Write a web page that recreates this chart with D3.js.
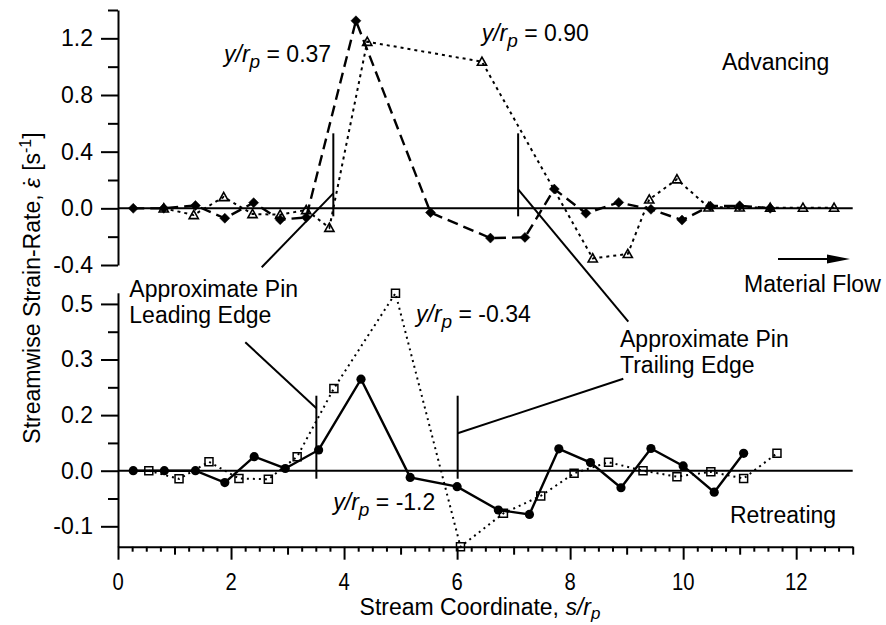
<!DOCTYPE html>
<html>
<head>
<meta charset="utf-8">
<script src="https://cdn.jsdelivr.net/npm/d3@7"></script>
<style>
  body { margin: 0; background: #fff; }
  svg text { font-family: "Liberation Sans", Arial, Helvetica, sans-serif; fill: #000; }
</style>
</head>
<body>
<svg id="chart" width="886" height="625"></svg>
<script>
// ---- data: streamwise strain-rate vs. stream coordinate s/r_p ----
// Advancing side, y/r_p = 0.37 (filled diamonds, dashed)
const sAdv037    = [0.27, 0.81, 1.37, 1.89, 2.40, 2.87, 3.33, 4.21, 5.53, 6.59, 7.20, 7.72, 8.28, 8.86, 9.43, 9.98, 10.48, 11.00, 11.54];
const rateAdv037 = [0.00, 0.00, 0.02, -0.07, 0.04, -0.08, -0.064, 1.324, -0.03, -0.21, -0.205, 0.136, -0.035, 0.042, -0.007, -0.083, 0.016, 0.018, 0.00];

// Advancing side, y/r_p = 0.90 (open triangles, dotted)
const sAdv090    = [0.81, 1.34, 1.87, 2.38, 2.87, 3.33, 3.74, 4.41, 6.44, 8.40, 9.02, 9.40, 9.89, 10.45, 11.00, 11.54, 12.12, 12.67];
const rateAdv090 = [0.00, -0.047, 0.08, -0.04, -0.045, -0.012, -0.137, 1.176, 1.035, -0.353, -0.322, 0.063, 0.205, 0.007, 0.007, 0.005, 0.005, 0.005];

// Retreating side, y/r_p = -1.2 (filled circles, solid)
const sRetM12    = [0.27, 0.82, 1.37, 1.89, 2.41, 2.96, 3.55, 4.30, 5.17, 6.00, 6.73, 7.28, 7.80, 8.36, 8.90, 9.43, 10.00, 10.55, 11.07];
const rateRetM12 = [0.00, 0.00, 0.00, -0.032, 0.038, 0.006, 0.056, 0.247, -0.018, -0.043, -0.106, -0.118, 0.059, 0.022, -0.046, 0.060, 0.013, -0.058, 0.047];

// Retreating side, y/r_p = -0.34 (open squares, dotted)
const sRetM034    = [0.545, 1.08, 1.61, 2.14, 2.66, 3.17, 3.82, 4.91, 6.06, 6.82, 7.48, 8.07, 8.68, 9.29, 9.89, 10.49, 11.07, 11.66];
const rateRetM034 = [0.00, -0.022, 0.024, -0.021, -0.023, 0.038, 0.222, 0.479, -0.205, -0.115, -0.068, -0.007, 0.023, 0.00, -0.016, -0.003, -0.021, 0.047];

// approximate pin leading / trailing edge positions (s/r_p)
const pinEdgesTop    = [3.81, 7.08];
const pinEdgesBottom = [3.51, 6.01];

// axis ticks
const xMajorTicks      = [0, 2, 4, 6, 8, 10, 12];
const xMajorLabels     = ["0", "2", "4", "6", "8", "10", "12"];
const topMajorTicks    = [-0.4, 0.0, 0.4, 0.8, 1.2];
const topMajorLabels   = ["-0.4", "0.0", "0.4", "0.8", "1.2"];
const topMinorTicks    = [-0.2, 0.2, 0.6, 1.0, 1.4];
const botMajorTicks    = [-0.15, 0.0, 0.15, 0.30, 0.45];
const botMajorLabels   = ["-0.1", "0.0", "0.2", "0.3", "0.5"];
const botMinorTicks    = [-0.075, 0.075, 0.225, 0.375];

// ---- layout ----
const svg = d3.select("#chart");
const FONT = 23;

const x    = d3.scaleLinear().domain([0, 13]).range([118, 852.7]);
const yTop = d3.scaleLinear().domain([-0.4, 1.4]).range([265, 10]);
const yBot = d3.scaleLinear().domain([-0.205, 0.48]).range([546.7, 292.8]);

function styleAxis(g) {
  g.attr("font-size", FONT).attr("font-family", null);
  g.selectAll("path.domain").attr("stroke", "#000").attr("stroke-width", 2);
  g.selectAll(".tick line").attr("stroke", "#000").attr("stroke-width", 2);
}

// left axes (top and bottom panels)
function leftAxis(scale, major, labels, minor) {
  const g = svg.append("g").attr("transform", `translate(${x(0)},0)`);
  g.call(d3.axisLeft(scale).tickValues(major)
      .tickFormat((d, i) => labels[i]).tickSizeInner(17).tickSizeOuter(0).tickPadding(8));
  styleAxis(g);
  const gm = svg.append("g").attr("transform", `translate(${x(0)},0)`);
  gm.call(d3.axisLeft(scale).tickValues(minor).tickFormat("").tickSize(10));
  gm.select("path.domain").remove();
  styleAxis(gm);
}
leftAxis(yTop, topMajorTicks, topMajorLabels, topMinorTicks);
leftAxis(yBot, botMajorTicks, botMajorLabels, botMinorTicks);

// bottom axis: major ticks every 2, medium at odd integers, minor every 0.25
const xAxisY = yBot.range()[0];
const gx = svg.append("g").attr("transform", `translate(0,${xAxisY})`);
gx.call(d3.axisBottom(x).tickValues(xMajorTicks).tickFormat("").tickSizeInner(13).tickSizeOuter(0));
styleAxis(gx);
const oddTicks = d3.range(1, 14, 2);
const quarterTicks = d3.range(0, 13.001, 0.25).filter(v => Math.abs(v - Math.round(v)) > 1e-6);
[[oddTicks, 8], [quarterTicks, 5]].forEach(([vals, size]) => {
  const g = svg.append("g").attr("transform", `translate(0,${xAxisY})`);
  g.call(d3.axisBottom(x).tickValues(vals).tickFormat("").tickSize(size));
  g.select("path.domain").remove();
  styleAxis(g);
});
// x tick labels (slightly condensed digits)
svg.append("g").selectAll("text").data(xMajorTicks).join("text")
  .attr("transform", d => `translate(${x(d)},590) scale(0.88,1)`)
  .attr("text-anchor", "middle").attr("font-size", FONT)
  .text((d, i) => xMajorLabels[i]);

// zero reference lines
[yTop, yBot].forEach(ys => {
  svg.append("line")
    .attr("x1", x(0)).attr("x2", x(13)).attr("y1", ys(0)).attr("y2", ys(0))
    .attr("stroke", "#000").attr("stroke-width", 2);
});

// ---- series ----
function drawLine(sv, rv, ys, opts) {
  const pts = sv.map((s, i) => [s, rv[i]]);
  svg.append("path").datum(pts)
    .attr("d", d3.line().x(d => x(d[0])).y(d => ys(d[1])))
    .attr("fill", "none").attr("stroke", "#000")
    .attr("stroke-width", opts.width)
    .attr("stroke-dasharray", opts.dash || null);
  return pts;
}
function drawMarkers(pts, ys, pathD, fill, strokeW) {
  svg.append("g").selectAll("path").data(pts).join("path")
    .attr("transform", d => `translate(${x(d[0])},${ys(d[1])})`)
    .attr("d", pathD)
    .attr("fill", fill).attr("stroke", "#000").attr("stroke-width", strokeW);
}
const diamondD  = "M0,-5L5,0L0,5L-5,0Z";
const triangleD = "M0,-4.6L4.6,3.6L-4.6,3.6Z";
const squareD   = "M-4,-4H4V4H-4Z";

const p090 = drawLine(sAdv090, rateAdv090, yTop, { width: 2, dash: "3,4" });
const p037 = drawLine(sAdv037, rateAdv037, yTop, { width: 2.4, dash: "11,6" });
drawMarkers(p090, yTop, triangleD, "none", 1.6);
drawMarkers(p037, yTop, diamondD, "#000", 0.5);

const p034 = drawLine(sRetM034, rateRetM034, yBot, { width: 2, dash: "2,4" });
const p12  = drawLine(sRetM12, rateRetM12, yBot, { width: 2.4 });
drawMarkers(p034, yBot, squareD, "none", 1.5);
svg.append("g").selectAll("circle").data(p12).join("circle")
  .attr("cx", d => x(d[0])).attr("cy", d => yBot(d[1])).attr("r", 4.6).attr("fill", "#000");

// ---- pin edge markers and leader lines ----
function seg(x1, y1, x2, y2) {
  svg.append("line").attr("x1", x1).attr("y1", y1).attr("x2", x2).attr("y2", y2)
    .attr("stroke", "#000").attr("stroke-width", 2);
}
function pinMark(s, ys) {
  const px = x(s), y0 = ys(0);
  seg(px, y0 - 75, px, y0 + 8);
  return { px, y0 };
}
{
  const a = pinMark(pinEdgesTop[0], yTop);
  seg(a.px, a.y0 - 15, 261.7, 267.3);
  const b = pinMark(pinEdgesTop[1], yTop);
  seg(b.px, b.y0 - 19, 628.3, 321.7);
  const c = pinMark(pinEdgesBottom[0], yBot);
  seg(c.px, c.y0 - 62.4, 245.3, 342.3);
  const d = pinMark(pinEdgesBottom[1], yBot);
  seg(d.px, d.y0 - 37.4, 623.3, 378.7);
}

// material flow arrow
seg(778, 259, 830, 259);
svg.append("path").attr("d", "M850,259L827,254.5L827,263.5Z").attr("fill", "#000");

// ---- text annotations ----
function plain(txt, tx, ty) {
  svg.append("text").attr("x", tx).attr("y", ty).attr("font-size", FONT).text(txt);
}
function yrLabel(value, tx, ty) {
  const t = svg.append("text").attr("x", tx).attr("y", ty).attr("font-size", FONT);
  t.append("tspan").attr("font-style", "italic").text("y/r");
  t.append("tspan").attr("font-style", "italic").attr("font-size", 19).attr("dy", 6).text("p");
  t.append("tspan").attr("dy", -6).text(" = " + value);
}
yrLabel("0.37", 224, 61.7);
yrLabel("0.90", 481.7, 40.7);
yrLabel("-0.34", 416, 321.7);
yrLabel("-1.2", 333.3, 510);

plain("Advancing", 722, 70);
plain("Material Flow", 744, 291.7);
plain("Retreating", 730, 523.3);
plain("Approximate Pin", 129.3, 296.7);
plain("Leading Edge", 129.3, 323.3);
plain("Approximate Pin", 620, 346.7);
plain("Trailing Edge", 620, 372.7);

// axis titles
{
  const t = svg.append("text").attr("text-anchor", "middle").attr("font-size", FONT)
    .attr("x", 480).attr("y", 615);
  t.append("tspan").text("Stream Coordinate, ");
  t.append("tspan").attr("font-style", "italic").text("s/r");
  t.append("tspan").attr("font-style", "italic").attr("font-size", 17).attr("dy", 4).text("p");
}
{
  const t = svg.append("text").attr("text-anchor", "middle").attr("font-size", FONT)
    .attr("transform", "translate(40,288) rotate(-90)");
  t.append("tspan").text("Streamwise Strain-Rate, ");
  t.append("tspan").attr("font-style", "italic").text("\u03B5");
  t.append("tspan").attr("dx", -8).text("\u02D9");
  t.append("tspan").attr("dx", 1).text(" [s");
  t.append("tspan").attr("font-size", 16).attr("dy", -9).text("-1");
  t.append("tspan").attr("dy", 9).text("]");
}
</script>
</body>
</html>
